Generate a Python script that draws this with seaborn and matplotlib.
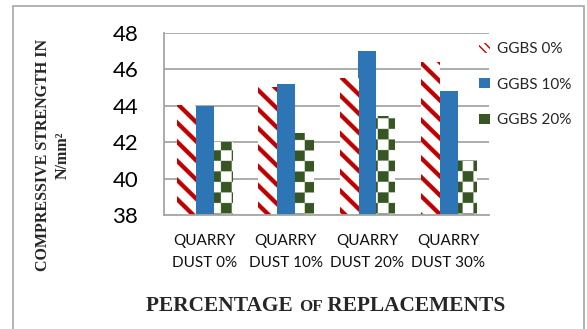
import numpy as np
import pandas as pd
import seaborn as sns
import matplotlib
matplotlib.use("Agg")
import matplotlib.pyplot as plt
from matplotlib.patches import Patch, Rectangle
from matplotlib.colors import to_rgb

categories = ["QUARRY\nDUST 0%", "QUARRY\nDUST 10%", "QUARRY\nDUST 20%", "QUARRY\nDUST 30%"]
series = ["GGBS 0%", "GGBS 10%", "GGBS 20%"]
ggbs0 = [44.0, 45.0, 45.5, 46.4]
ggbs10 = [44.0, 45.2, 47.0, 44.8]
ggbs20 = [42.0, 42.5, 43.4, 41.0]
y_ticks = [38, 40, 42, 44, 46, 48]
y_title = "COMPRESSIVE STRENGTH IN\nN/mm\u00b2"

RED, BLUE, GREEN, GRID = "#C00000", "#2E75B6", "#375623", "#A6A6A6"

df = pd.DataFrame({
    "cat": categories * 3,
    "series": np.repeat(series, len(categories)),
    "value": ggbs0 + ggbs10 + ggbs20,
})

sns.set_theme(style="white")
plt.rcParams["font.family"] = ["Lato", "DejaVu Sans"]

W, H = 587, 329
fig = plt.figure(figsize=(W / 100, H / 100), dpi=100)
ax = fig.add_axes([164 / W, 1 - 215 / H, 325 / W, 182 / H])

sns.barplot(data=df, x="cat", y="value", hue="series", order=categories,
            hue_order=series, palette=["white", BLUE, "white"], width=0.68,
            gap=0, saturation=1, linewidth=0, legend=False, ax=ax)

ax.set_ylim(38, 48)
ax.set_xlim(-0.5, 3.5)
ax.set_yticks(y_ticks)
ax.yaxis.grid(True, color=GRID, lw=1.3)
ax.set_axisbelow(True)
for s in ["top", "right"]:
    ax.spines[s].set_visible(False)
for s in ["left", "bottom"]:
    ax.spines[s].set_color(GRID)
    ax.spines[s].set_linewidth(1.3)
ax.tick_params(axis="y", length=6.5, width=1.3, color=GRID, pad=12, labelsize=16, labelcolor="black")
ax.tick_params(axis="x", length=0, pad=14, labelsize=11, labelcolor="#111111")
for lab in ax.get_xticklabels():
    lab.set_linespacing(1.7)
ax.set_xlabel("")
ax.set_ylabel("")

fig.canvas.draw()


def overlay(patch, kind):
    x0 = patch.get_x()
    w = patch.get_width()
    top = patch.get_y() + patch.get_height()
    y0 = ax.get_ylim()[0]
    (px0, py0), (px1, py1) = ax.transData.transform([(x0, y0), (x0 + w, top)])
    ss = 4
    nx = max(1, int(round((px1 - px0) * ss)))
    ny = max(1, int(round((py1 - py0) * ss)))
    X = px0 + (np.arange(nx) + 0.5) / ss
    Y = py0 + (np.arange(ny) + 0.5) / ss
    XX, YY = np.meshgrid(X, Y)
    if kind == "stripe":
        mask = ((XX + YY) % 19.0) < 6.0
        col = RED
    else:
        mask = ((np.floor(XX / 10.5) + np.floor(YY / 10.5)) % 2) == 0
        col = GREEN
    img = np.ones((ny, nx, 3))
    img[mask] = to_rgb(col)
    ax.imshow(img, extent=(x0, x0 + w, y0, top), origin="lower", aspect="auto",
              interpolation="antialiased", zorder=patch.get_zorder() + 0.1)


for p in ax.containers[0]:
    overlay(p, "stripe")
for p in ax.containers[2]:
    overlay(p, "checker")

ax.set_ylim(38, 48)
ax.set_xlim(-0.5, 3.5)

handles = [
    Patch(facecolor="white", edgecolor=RED, hatch="\\\\\\\\", linewidth=0),
    Patch(facecolor=BLUE, edgecolor=BLUE, linewidth=0),
    Patch(facecolor=GREEN, edgecolor=GREEN, linewidth=0),
]
ax.legend(handles, series, loc="upper left", bbox_to_anchor=(479 / W, 1 - 42 / H),
          bbox_transform=fig.transFigure, frameon=False, fontsize=11,
          handlelength=0.7, handleheight=0.65, handletextpad=0.45,
          labelspacing=1.42, borderpad=0, borderaxespad=0)

# y-axis title
fig.text(53 / W, 1 - 155 / H, y_title, rotation=90, ha="center", va="center",
         family=["Liberation Serif", "DejaVu Serif"], weight="bold", fontsize=11.5,
         multialignment="center", linespacing=1.25)

# x-axis title with small-caps "OF"
parts = [("PERCENTAGE ", 15.4), ("OF", 12.2), (" REPLACEMENTS", 15.4)]
renderer = fig.canvas.get_renderer()
texts = []
for s, fs in parts:
    t = fig.text(0, 0, s, family=["Liberation Serif", "DejaVu Serif"], weight="bold",
                 fontsize=fs, ha="left", va="baseline", transform=None)
    texts.append(t)
widths = [t.get_window_extent(renderer).width for t in texts]
total = sum(widths)
xstart = 326 - total / 2
base_y = H - 311
for t, wdt in zip(texts, widths):
    t.set_position((xstart, base_y))
    xstart += wdt

# outer border
fig.patches.append(Rectangle((13 / W, -0.05), (584 - 13) / W, 1.05 - 6 / H,
                             transform=fig.transFigure, fill=False,
                             edgecolor="#A6A6A6", lw=1.2))

fig.savefig("out.png", dpi=100)
